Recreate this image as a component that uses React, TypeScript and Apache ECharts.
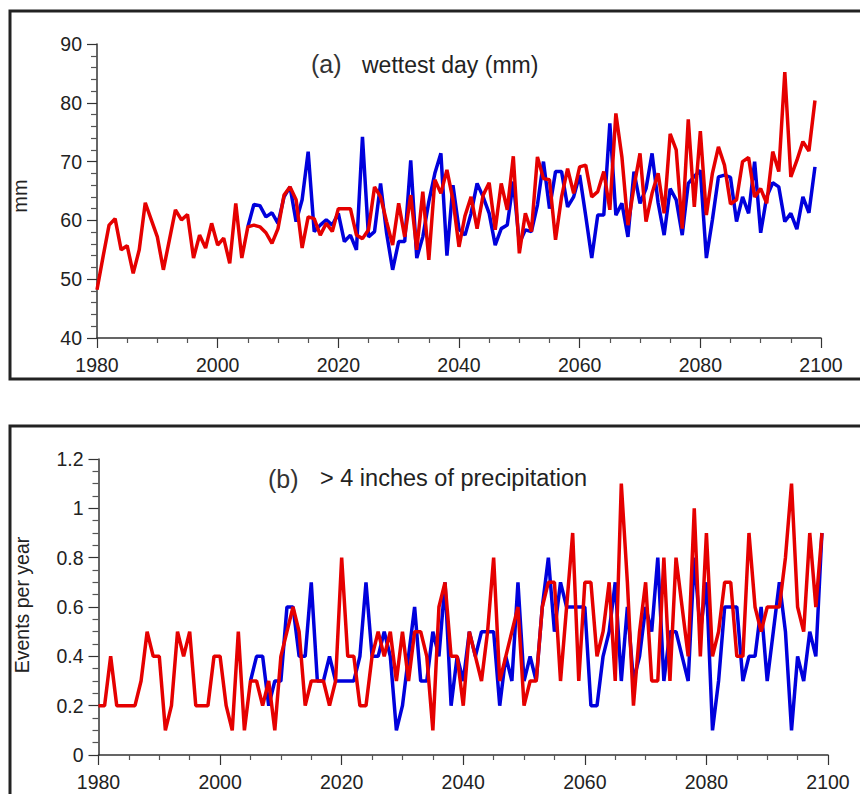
import React, { useEffect, useRef } from "react";
import * as echarts from "echarts";

// ---------- data ----------
const RED_START = 1980;
const BLUE_START = 2005;

// (a) wettest day (mm)
const wettestRed = [
  48.2, 53.8, 59.2, 60.3, 55.0, 55.7, 51.0, 55.0, 63.0, 60.1,
  57.2, 51.6, 56.7, 61.8, 60.1, 61.0, 53.6, 57.5, 55.3, 59.5,
  55.8, 57.0, 52.7, 62.9, 53.6, 58.9, 59.2, 58.9, 57.9, 56.1,
  58.6, 64.3, 65.7, 63.5, 55.3, 60.6, 60.3, 57.5, 59.5, 58.1,
  62.0, 62.0, 62.0, 57.5, 56.9, 58.4, 65.7, 64.0, 59.8, 55.8,
  62.9, 57.2, 64.3, 55.0, 64.9, 53.3, 66.9, 64.6, 68.6, 63.5,
  55.5, 60.8, 64.0, 58.6, 64.3, 66.4, 58.4, 66.3, 61.8, 70.9,
  54.4, 61.2, 58.1, 70.8, 67.1, 66.9, 56.7, 64.0, 68.8, 64.6,
  69.1, 69.4, 64.0, 64.9, 68.3, 61.8, 78.2, 70.8, 59.2, 65.7,
  71.4, 59.8, 64.6, 68.0, 61.2, 74.7, 72.0, 58.6, 77.2, 62.3,
  75.2, 60.9, 68.0, 72.5, 69.4, 62.8, 63.5, 70.0, 70.7, 64.0,
  65.4, 62.9, 71.7, 68.3, 85.2, 67.4, 70.2, 73.4, 71.8, 80.4,
];
const wettestBlue = [
  58.9, 62.7, 62.5, 60.6, 61.3,
  59.5, 64.0, 65.7, 59.8, 63.5, 71.7, 58.1, 59.2, 60.1, 59.2,
  61.2, 56.4, 57.5, 55.0, 74.2, 57.2, 58.1, 66.3, 57.8, 51.6,
  56.4, 56.4, 70.2, 53.6, 57.2, 63.2, 68.0, 71.4, 54.0, 66.0,
  58.5, 57.5, 61.2, 66.3, 64.0, 61.2, 55.8, 58.6, 59.2, 66.6,
  56.1, 58.4, 58.1, 62.6, 70.0, 62.0, 68.3, 68.3, 62.3, 64.0,
  67.7, 60.8, 53.6, 60.9, 60.9, 76.5, 60.9, 62.9, 57.2, 68.3,
  62.9, 65.4, 71.4, 63.0, 57.5, 65.4, 63.5, 57.5, 66.3, 67.5,
  68.5, 53.6, 60.1, 67.4, 67.7, 67.3, 59.8, 64.0, 61.2, 70.0,
  57.9, 64.0, 66.4, 65.7, 59.8, 61.2, 58.5, 64.0, 61.3, 69.1,
];

// (b) > 4 inches of precipitation (events per year)
const eventsRed = [
  0.2, 0.2, 0.4, 0.2, 0.2, 0.2, 0.2, 0.3, 0.5, 0.4,
  0.4, 0.1, 0.2, 0.5, 0.4, 0.5, 0.2, 0.2, 0.2, 0.4,
  0.4, 0.2, 0.1, 0.5, 0.1, 0.3, 0.3, 0.2, 0.3, 0.1,
  0.4, 0.5, 0.6, 0.5, 0.2, 0.3, 0.3, 0.3, 0.2, 0.3,
  0.8, 0.4, 0.4, 0.2, 0.2, 0.4, 0.5, 0.4, 0.5, 0.3,
  0.5, 0.3, 0.5, 0.5, 0.4, 0.1, 0.6, 0.7, 0.4, 0.4,
  0.2, 0.5, 0.4, 0.3, 0.5, 0.8, 0.3, 0.4, 0.5, 0.6,
  0.2, 0.3, 0.3, 0.6, 0.7, 0.7, 0.3, 0.6, 0.9, 0.3,
  0.7, 0.7, 0.4, 0.5, 0.7, 0.3, 1.1, 0.7, 0.2, 0.5,
  0.7, 0.3, 0.3, 0.8, 0.3, 0.8, 0.6, 0.4, 1.0, 0.4,
  0.9, 0.4, 0.5, 0.7, 0.7, 0.4, 0.4, 0.9, 0.6, 0.5,
  0.6, 0.6, 0.6, 0.8, 1.1, 0.6, 0.5, 0.9, 0.6, 0.9,
];
const eventsBlue = [
  0.3, 0.4, 0.4, 0.2, 0.3,
  0.3, 0.6, 0.6, 0.4, 0.4, 0.7, 0.3, 0.3, 0.4, 0.3,
  0.3, 0.3, 0.3, 0.4, 0.7, 0.4, 0.4, 0.5, 0.4, 0.1,
  0.2, 0.4, 0.6, 0.3, 0.3, 0.5, 0.4, 0.7, 0.2, 0.4,
  0.3, 0.5, 0.4, 0.5, 0.5, 0.5, 0.2, 0.4, 0.3, 0.7,
  0.3, 0.4, 0.3, 0.6, 0.8, 0.5, 0.7, 0.6, 0.6, 0.6,
  0.6, 0.2, 0.2, 0.4, 0.5, 0.7, 0.3, 0.6, 0.3, 0.4,
  0.6, 0.5, 0.8, 0.3, 0.5, 0.5, 0.4, 0.3, 0.8, 0.5,
  0.7, 0.1, 0.3, 0.6, 0.6, 0.6, 0.3, 0.4, 0.4, 0.6,
  0.3, 0.5, 0.7, 0.5, 0.1, 0.4, 0.3, 0.5, 0.4, 0.9,
];

const xTicks = { min: 1980, max: 2100, interval: 20 };
const yTicksA = { min: 40, max: 90, interval: 10 };
const yTicksB = { min: 0, max: 1.2, interval: 0.2 };

const titleA = ["(a)", "wettest day (mm)"];
const titleB = ["(b)", "> 4 inches of precipitation"];
const yNameA = "mm";
const yNameB = "Events per year";

// ---------- helpers ----------
const toPairs = (start: number, vals: number[]) => vals.map((v, i) => [start + i, v]);

const FONT = "'Liberation Sans', Arial, Helvetica, sans-serif";
const RED = "#e50000";
const BLUE = "#0000dc";
const AXIS = "#333";

function xAxisCfg(gridIndex: number) {
  return {
    type: "value",
    gridIndex,
    min: xTicks.min,
    max: xTicks.max,
    interval: xTicks.interval,
    axisLine: { show: true, onZero: false, lineStyle: { color: AXIS, width: 1.5 } },
    axisTick: { show: true, length: 10, lineStyle: { color: AXIS, width: 1.2 } },
    minorTick: { show: true, splitNumber: 4, length: 5, lineStyle: { color: "#555", width: 1.2 } },
    splitLine: { show: false },
    minorSplitLine: { show: false },
    axisLabel: {
      color: "#222",
      fontSize: 19.5,
      fontFamily: FONT,
      margin: 17,
      formatter: (v: number) => String(v),
    },
  };
}

function yAxisCfg(gridIndex: number, t: { min: number; max: number; interval: number }) {
  return {
    type: "value",
    gridIndex,
    min: t.min,
    max: t.max,
    interval: t.interval,
    axisLine: { show: true, onZero: false, lineStyle: { color: AXIS, width: 1.5 } },
    axisTick: { show: true, length: 10, lineStyle: { color: AXIS, width: 1.2 } },
    minorTick: { show: true, splitNumber: t.interval === 10 ? 5 : 4, length: 6, lineStyle: { color: "#555", width: 1.2 } },
    splitLine: { show: false },
    minorSplitLine: { show: false },
    axisLabel: { color: "#222", fontSize: 19.5, fontFamily: FONT, margin: 15 },
  };
}

function lineSeries(name: string, xi: number, data: number[][], color: string) {
  return {
    name,
    type: "line",
    xAxisIndex: xi,
    yAxisIndex: xi,
    data,
    symbol: "none",
    showSymbol: false,
    lineStyle: { color, width: 3.5 },
    itemStyle: { color },
    z: color === RED ? 3 : 2,
  };
}

export default function App() {
  const ref = useRef<HTMLDivElement>(null);

  useEffect(() => {
    if (!ref.current) return;
    const chart = echarts.init(ref.current, null, { renderer: "svg" });
    const option = {
      animation: false,
      backgroundColor: "#fff",
      grid: [
        { left: 97, top: 44, width: 724, height: 294 },
        { left: 98.5, top: 459, width: 729.5, height: 296 },
      ],
      xAxis: [xAxisCfg(0), xAxisCfg(1)],
      yAxis: [yAxisCfg(0, yTicksA), yAxisCfg(1, yTicksB)],
      series: [
        lineSeries("A blue", 0, toPairs(BLUE_START, wettestBlue), BLUE),
        lineSeries("A red", 0, toPairs(RED_START, wettestRed), RED),
        lineSeries("B blue", 1, toPairs(BLUE_START, eventsBlue), BLUE),
        lineSeries("B red", 1, toPairs(RED_START, eventsRed), RED),
      ],
      graphic: [
        { type: "rect", shape: { x: 10, y: 11, width: 880, height: 368 }, style: { fill: "none", stroke: "#222", lineWidth: 3 }, silent: true },
        { type: "rect", shape: { x: 10, y: 426, width: 880, height: 420 }, style: { fill: "none", stroke: "#222", lineWidth: 3 }, silent: true },
        { type: "text", x: 311, y: 64, style: { text: titleA[0], fontSize: 25, fontFamily: FONT, fill: "#333", textAlign: "left", textVerticalAlign: "middle" } },
        { type: "text", x: 362, y: 65, style: { text: titleA[1], fontSize: 23, fontFamily: FONT, fill: "#222", textAlign: "left", textVerticalAlign: "middle" } },
        { type: "text", x: 268, y: 479, style: { text: titleB[0], fontSize: 25, fontFamily: FONT, fill: "#333", textAlign: "left", textVerticalAlign: "middle" } },
        { type: "text", x: 320, y: 478, style: { text: titleB[1], fontSize: 23.5, fontFamily: FONT, fill: "#222", textAlign: "left", textVerticalAlign: "middle" } },
        { type: "text", x: 20, y: 196, rotation: Math.PI / 2, style: { text: yNameA, fontSize: 20, fontFamily: FONT, fill: "#222", textAlign: "center", textVerticalAlign: "middle" } },
        { type: "text", x: 22, y: 605, rotation: Math.PI / 2, style: { text: yNameB, fontSize: 19.5, fontFamily: FONT, fill: "#222", textAlign: "center", textVerticalAlign: "middle" } },
      ],
    };
    chart.setOption(option as any);
    return () => chart.dispose();
  }, []);

  return (
    <div
      ref={ref}
      style={{ position: "fixed", left: 0, top: 0, width: 860, height: 794, background: "#fff" }}
    />
  );
}
